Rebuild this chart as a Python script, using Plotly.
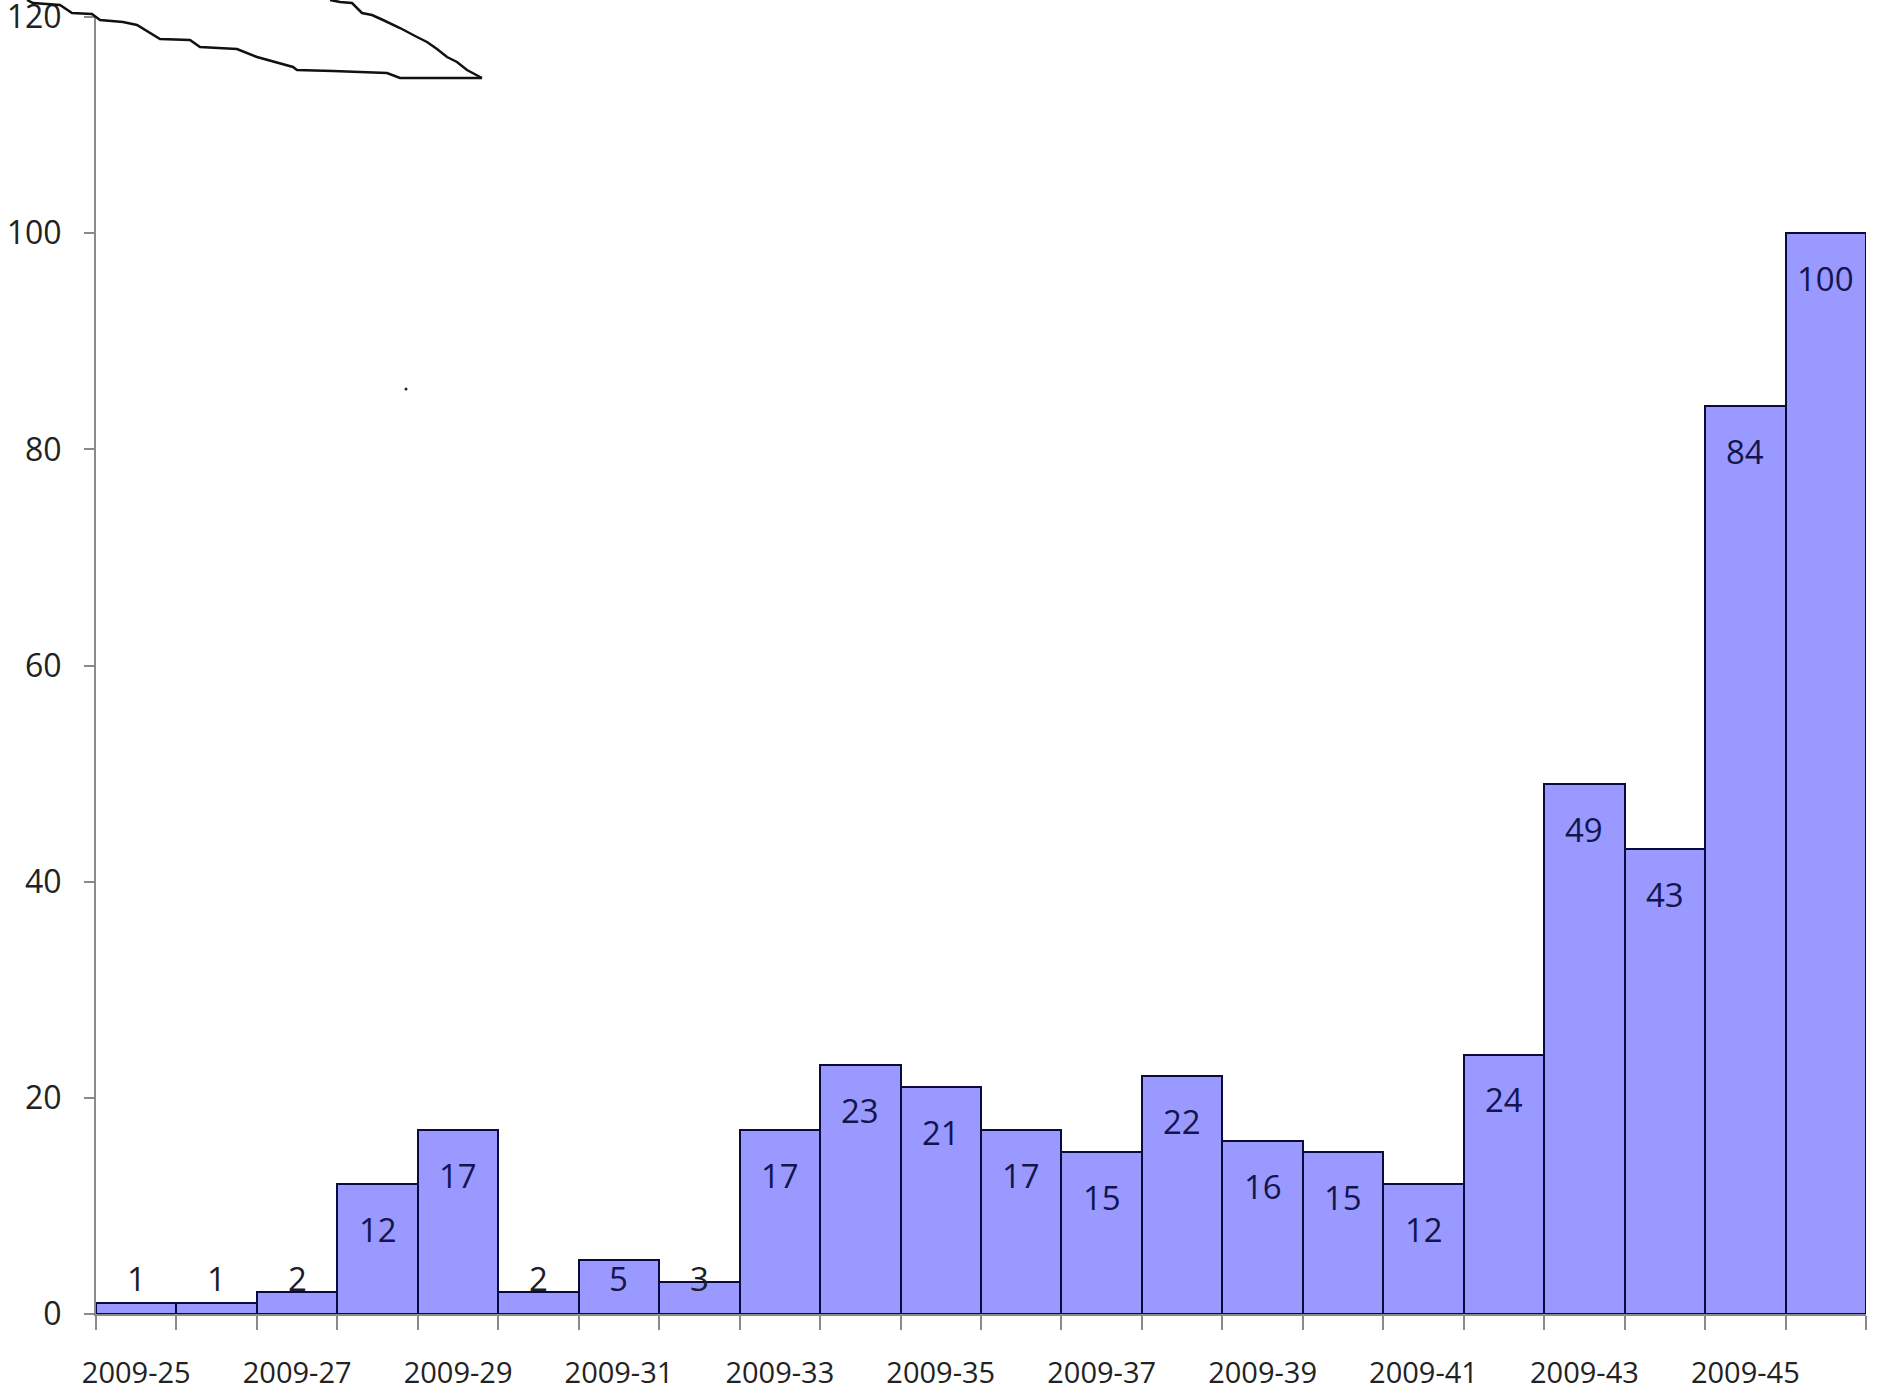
import plotly.graph_objects as go

# Weekly counts, 2009 ISO weeks 25..46
weeks = ["2009-25", "2009-26", "2009-27", "2009-28", "2009-29", "2009-30",
         "2009-31", "2009-32", "2009-33", "2009-34", "2009-35", "2009-36",
         "2009-37", "2009-38", "2009-39", "2009-40", "2009-41", "2009-42",
         "2009-43", "2009-44", "2009-45", "2009-46"]
counts = [1, 1, 2, 12, 17, 2, 5, 3, 17, 23, 21, 17, 15, 22, 16, 15, 12, 24,
          49, 43, 84, 100]
y_ticks = [0, 20, 40, 60, 80, 100, 120]

# Freehand pen strokes drawn over the top-left corner (page pixels)
stroke_a = [(27, 0), (33, 3), (60, 5), (72, 13), (92, 14), (100, 20), (123, 22),
            (137, 25), (160, 39), (190, 40), (200, 47), (237, 49), (257, 57),
            (293, 67), (297, 70), (333, 71), (387, 73), (400, 78), (482, 78)]
stroke_b = [(330, 0), (340, 2), (352, 3), (362, 13), (372, 15), (383, 20),
            (400, 28), (417, 37), (427, 42), (437, 49), (447, 57), (457, 62),
            (467, 70), (482, 78)]

W, H = 1878, 1394
M_L, M_R, M_T, M_B = 96, 12, 17, 80
PW, PH = W - M_L - M_R, H - M_T - M_B

FONT = "Open Sans, Lato, DejaVu Sans, sans-serif"
NAVY = "#14144e"

x_pos = list(range(len(weeks)))

fig = go.Figure(
    go.Bar(
        x=x_pos,
        y=counts,
        width=1.0,
        marker=dict(color="#9999ff", line=dict(color="#0a0a3c", width=2)),
        hoverinfo="skip",
    )
)

# Value labels: just below each bar top, but never lower than a floor above the axis
for xi, v in zip(x_pos, counts):
    ly = max(v - 4.2, 3.3)
    inside = ly + 1.6 < v
    fig.add_annotation(
        x=xi, y=ly, text=str(v), showarrow=False,
        font=dict(family=FONT, size=33, color=NAVY if inside else "#1c1c2c"),
        xanchor="center", yanchor="middle",
    )


def to_paper(pts):
    return [((px - M_L) / PW, (H - M_B - py) / PH) for px, py in pts]


def svg_path(pts):
    p = to_paper(pts)
    return "M " + " L ".join(f"{x:.5f},{y:.5f}" for x, y in p)


for stroke in (stroke_a, stroke_b):
    fig.add_shape(type="path", path=svg_path(stroke), xref="paper", yref="paper",
                  line=dict(color="#111111", width=2.5))

# tiny pen dot
(dx, dy), = to_paper([(406, 389)])
fig.add_shape(type="circle", xref="paper", yref="paper",
              x0=dx - 1.5 / PW, x1=dx + 1.5 / PW, y0=dy - 1.5 / PH, y1=dy + 1.5 / PH,
              fillcolor="#222222", line=dict(width=0))

fig.update_layout(
    width=W, height=H,
    margin=dict(l=M_L, r=M_R, t=M_T, b=M_B, pad=0, autoexpand=False),
    paper_bgcolor="white", plot_bgcolor="white",
    showlegend=False,
    bargap=0,
    font=dict(family=FONT, size=30, color="#222222"),
)

fig.update_xaxes(
    range=[-0.5, len(weeks) - 0.5],
    automargin=False,
    tickmode="array",
    tickvals=x_pos[::2],
    ticktext=weeks[::2],
    ticks="",
    ticklabelstandoff=32,
    showline=True, linecolor="#8a8a8a", linewidth=2,
    showgrid=False, zeroline=False,
    minor=dict(tickmode="linear", tick0=-0.5, dtick=1, ticks="outside",
               ticklen=14, tickwidth=2, tickcolor="#8a8a8a", showgrid=False),
    tickfont=dict(family=FONT, size=29, color="#222222"),
)

fig.update_yaxes(
    range=[0, 120],
    automargin=False,
    tickmode="array",
    tickvals=y_ticks,
    ticks="outside", ticklen=10, tickwidth=2, tickcolor="#8a8a8a",
    ticklabelstandoff=16,
    ticklabeloverflow="allow",
    showline=True, linecolor="#8a8a8a", linewidth=2,
    showgrid=False, zeroline=False,
    tickfont=dict(family=FONT, size=32, color="#222222"),
)

fig.write_html("out.html")
